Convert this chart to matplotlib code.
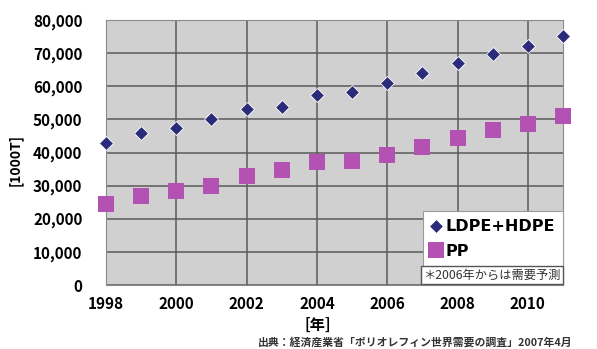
import numpy as np
import matplotlib.pyplot as plt
from matplotlib.lines import Line2D

plt.rcParams['font.family'] = ['Noto Sans CJK JP', 'DejaVu Sans']
plt.rcParams['font.weight'] = 'bold'

years = [1998, 1999, 2000, 2001, 2002, 2003, 2004, 2005, 2006, 2007, 2008, 2009, 2010, 2011]
pe_demand = [42900, 45900, 47400, 50100, 53100, 53700, 57400, 58300, 61100, 64000, 67000, 69700, 72200, 75200]
pp_demand = [24400, 26900, 28400, 29900, 32900, 34700, 37100, 37400, 39300, 41700, 44400, 46800, 48600, 51000]
series_names = ['LDPE+HDPE', 'PP']
xticks = [1998, 2000, 2002, 2004, 2006, 2008, 2010]
yticks = np.arange(0, 80001, 10000)

W, H = 597, 349
fig = plt.figure(figsize=(W / 100, H / 100), dpi=100)
ax = fig.add_axes([106 / W, 1 - 285 / H, (563 - 106) / W, (285 - 20) / H])
ax.set_facecolor('#d0d0d0')

navy = '#2a2c7a'
pink = '#b352b3'
ax.plot(years, pe_demand, 'D', color=navy, ms=7, mec='white', mew=0.6, clip_on=False, zorder=5)
ax.plot(years, pp_demand, 's', color=pink, ms=11.5, mec=pink, mew=0, clip_on=False, zorder=5)

ax.set_xlim(1998, 2011)
ax.set_ylim(0, 80000)
ax.set_xticks(xticks)
ax.set_yticks(yticks)
ax.set_yticklabels([f'{v:,}' for v in yticks])
ax.grid(True, color='#5a5a5a', lw=1.1)
ax.set_axisbelow(True)
ax.tick_params(length=0, labelsize=11)
for lab in ax.get_xticklabels() + ax.get_yticklabels():
    lab.set_fontweight('bold')
ax.tick_params(axis='y', pad=17)
ax.tick_params(axis='x', pad=8)
for s in ax.spines.values():
    s.set_color('#8a8a8a')
    s.set_linewidth(0.8)

fig.text(15 / W, 1 - 160 / H, '[1000T]', rotation=90, ha='center', va='center', fontsize=10, fontweight='bold')
fig.text(318 / W, 1 - 325 / H, '[年]', ha='center', va='center', fontsize=11, fontweight='bold')
fig.text(258 / W, 1 - 342 / H, '出典：経済産業省「ポリオレフィン世界需要の調査」2007年4月',
         ha='left', va='center', fontsize=7.8, fontweight='bold', color='#333333')

handles = [
    Line2D([], [], ls='none', marker='D', color=navy, ms=7, mec='white', mew=0.6),
    Line2D([], [], ls='none', marker='s', color=pink, ms=11.5, mew=0),
]
leg = ax.legend(handles, series_names, loc='lower right', bbox_to_anchor=(1.0, 0.068),
                borderaxespad=0, frameon=True, fancybox=False, framealpha=1, edgecolor='#9a9a9a',
                handlelength=0.6, handletextpad=0.3, borderpad=0.5, labelspacing=0.6,
                prop={'family': 'DejaVu Sans', 'weight': 'bold', 'size': 11.5})
leg.get_frame().set_linewidth(0.8)
leg.set_zorder(10)

ax.text(0.995, 0.012, '＊2006年からは需要予測', transform=ax.transAxes, ha='right', va='bottom',
        fontsize=8.8, fontweight='normal', color='#333333', zorder=11,
        bbox=dict(boxstyle='square,pad=0.2', fc='white', ec='#555555', lw=1))

fig.savefig('out.png', dpi=100)
